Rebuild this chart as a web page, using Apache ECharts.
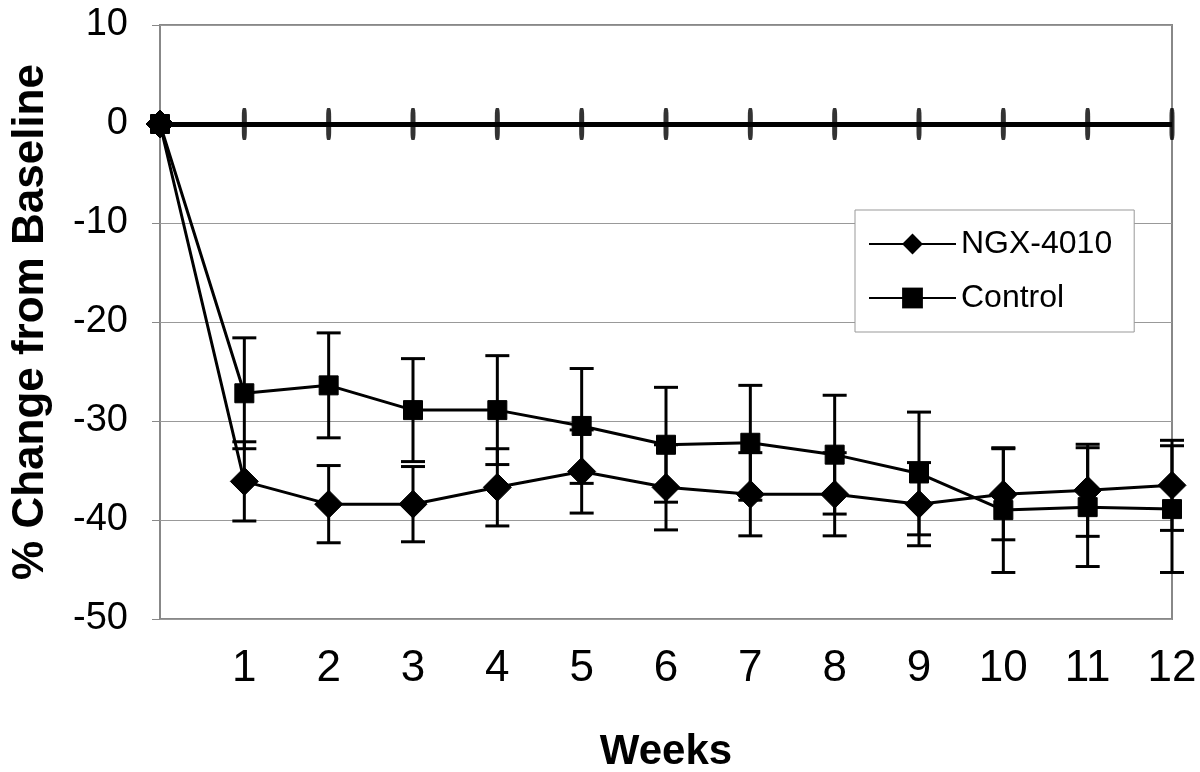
<!DOCTYPE html>
<html>
<head>
<meta charset="utf-8">
<script src="https://cdn.jsdelivr.net/npm/echarts@6/dist/echarts.min.js"></script>
<style>
html,body{margin:0;padding:0;background:#fff;}
#chart{width:1200px;height:772px;}
</style>
</head>
<body>
<div id="chart"></div>
<script>
// ---- data ----
const weeks = [0, 1, 2, 3, 4, 5, 6, 7, 8, 9, 10, 11, 12];
const ngxMean = [0, -36.1, -38.4, -38.4, -36.7, -35.1, -36.7, -37.4, -37.4, -38.4, -37.4, -37.0, -36.5];
const ngxErr  = [0, 4.0, 3.9, 3.8, 3.9, 4.2, 4.3, 4.2, 4.2, 4.2, 4.6, 4.65, 4.55];
const ctrlMean = [0, -27.2, -26.4, -28.9, -28.9, -30.5, -32.4, -32.2, -33.4, -35.3, -39.0, -38.7, -38.9];
const ctrlErr  = [0, 5.6, 5.3, 5.2, 5.5, 5.8, 5.8, 5.8, 6.0, 6.2, 6.3, 6.0, 6.4];
const seriesNames = ['NGX-4010', 'Control'];
const yTicks = [10, 0, -10, -20, -30, -40, -50];
const xTickLabels = ['', '1', '2', '3', '4', '5', '6', '7', '8', '9', '10', '11', '12'];
const xTitle = 'Weeks';
const yTitle = '% Change from Baseline';

// ---- build ----
const pts = (m) => weeks.map((w, i) => [w, m[i]]);
const errData = (m, e) => weeks.map((w, i) => [w, m[i] - e[i], m[i] + e[i]]).filter((d, i) => e[i] > 0);

function errRender(params, api) {
  const x = api.value(0);
  const lo = api.coord([x, api.value(1)]);
  const hi = api.coord([x, api.value(2)]);
  const half = 12;
  const st = { stroke: '#000', lineWidth: 3 };
  return {
    type: 'group',
    children: [
      { type: 'line', shape: { x1: lo[0], y1: lo[1], x2: hi[0], y2: hi[1] }, style: st },
      { type: 'line', shape: { x1: lo[0] - half, y1: lo[1], x2: lo[0] + half, y2: lo[1] }, style: st },
      { type: 'line', shape: { x1: hi[0] - half, y1: hi[1], x2: hi[0] + half, y2: hi[1] }, style: st }
    ]
  };
}

const chart = echarts.init(document.getElementById('chart'), null, { renderer: 'canvas' });
const option = {
  animation: false,
  backgroundColor: '#fff',
  grid: {
    left: 160, right: 28, top: 25, bottom: 153,
    containLabel: false,
    outerBoundsMode: 'none',
    show: true, borderColor: '#888', borderWidth: 2, backgroundColor: 'transparent'
  },
  legend: {
    data: seriesNames,
    orient: 'vertical',
    left: 855, top: 210,
    padding: [18, 22, 18, 13],
    itemGap: 22,
    itemWidth: 87,
    itemHeight: 26,
    backgroundColor: '#fff',
    borderColor: '#999',
    borderWidth: 1,
    borderRadius: 0,
    textStyle: { fontFamily: 'Liberation Sans, Arial, sans-serif', fontSize: 32, color: '#000' }
  },
  xAxis: [{
    type: 'value',
    min: 0, max: 12, interval: 1,
    axisLine: { show: false, onZero: false },
    axisTick: { show: false },
    splitLine: { show: false },
    axisLabel: {
      margin: 28,
      fontFamily: 'Liberation Sans Narrow, Arial Narrow, Liberation Sans, sans-serif',
      fontSize: 44, color: '#000',
      formatter: (v) => xTickLabels[Math.round(v)] || ''
    },
    name: xTitle,
    nameLocation: 'middle',
    nameGap: 112,
    nameTextStyle: { fontFamily: 'Liberation Sans, Arial, sans-serif', fontWeight: 'bold', fontSize: 42, color: '#000' }
  }],
  yAxis: [{
    type: 'value',
    min: -50, max: 10, interval: 10,
    axisLine: { show: false, onZero: false },
    axisTick: { show: true, length: 8, lineStyle: { color: '#888', width: 1 } },
    splitLine: { show: true, lineStyle: { color: '#999', width: 1 } },
    axisLabel: {
      margin: 32,
      fontFamily: 'Liberation Sans, Arial, sans-serif',
      fontSize: 38, color: '#000',
      formatter: (v) => (yTicks.indexOf(v) >= 0 ? String(v) : '')
    },
    name: yTitle,
    nameLocation: 'middle',
    nameGap: 107,
    nameTextStyle: { fontFamily: 'Liberation Sans, Arial, sans-serif', fontWeight: 'bold', fontSize: 44, color: '#000' }
  }],
  series: [
    {
      name: 'baseline',
      type: 'scatter',
      data: weeks.filter(w => w > 0).map(w => [w, 0]),
      symbol: 'roundRect',
      symbolSize: [5, 32],
      itemStyle: { color: '#000' },
      silent: true,
      z: 3,
      markLine: {
        silent: true,
        symbol: 'none',
        label: { show: false },
        lineStyle: { color: '#000', width: 5, type: 'solid' },
        data: [{ yAxis: 0 }]
      }
    },
    {
      name: 'NGX-4010 err',
      type: 'custom',
      renderItem: errRender,
      data: errData(ngxMean, ngxErr),
      z: 4,
      silent: true
    },
    {
      name: 'Control err',
      type: 'custom',
      renderItem: errRender,
      data: errData(ctrlMean, ctrlErr),
      z: 4,
      silent: true
    },
    {
      name: seriesNames[1],
      type: 'line',
      data: pts(ctrlMean),
      symbol: 'rect',
      symbolSize: 19,
      showAllSymbol: true,
      lineStyle: { color: '#000', width: 3 },
      itemStyle: { color: '#000', borderColor: '#000' },
      z: 5
    },
    {
      name: seriesNames[0],
      type: 'line',
      data: pts(ngxMean),
      symbol: 'diamond',
      symbolSize: 28,
      showAllSymbol: true,
      lineStyle: { color: '#000', width: 3 },
      itemStyle: { color: '#000', borderColor: '#000' },
      z: 6
    }
  ]
};
chart.setOption(option);
</script>
</body>
</html>
